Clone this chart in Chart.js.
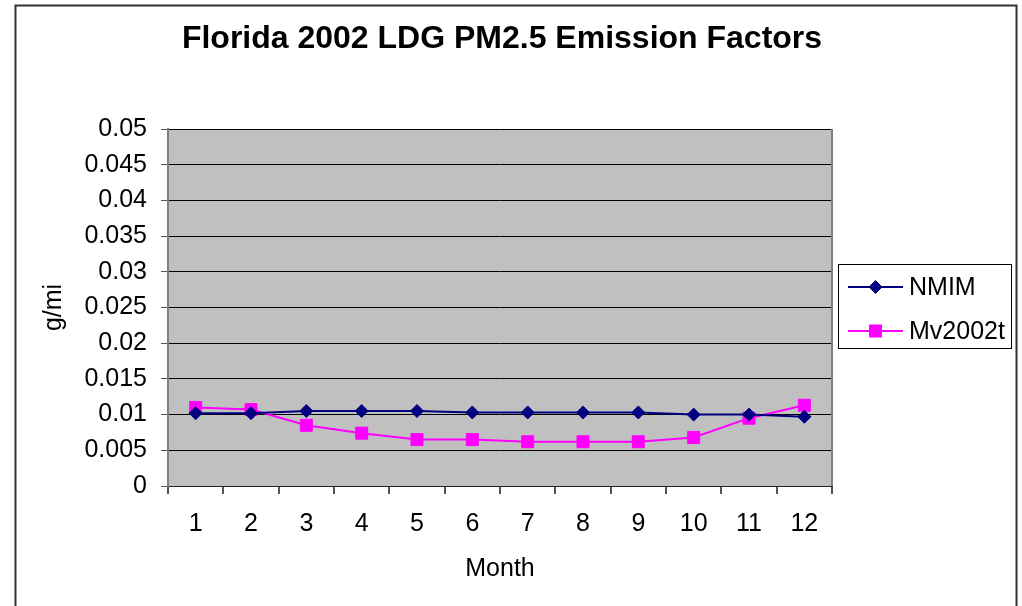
<!DOCTYPE html>
<html>
<head>
<meta charset="utf-8">
<script src="https://cdn.jsdelivr.net/npm/chart.js@4"></script>
<style>
  body { margin: 0; background: #fff; }
  canvas { display: block; }
</style>
</head>
<body>
<canvas id="efChart" width="1022" height="606"></canvas>
<script>
const months = ['1', '2', '3', '4', '5', '6', '7', '8', '9', '10', '11', '12'];
const nmimValues = [0.0102, 0.0102, 0.0105, 0.0105, 0.0105, 0.0103, 0.0103, 0.0103, 0.0103, 0.0100, 0.0100, 0.0097];
const mv2002tValues = [0.0110, 0.0107, 0.0085, 0.0074, 0.0065, 0.0065, 0.0062, 0.0062, 0.0062, 0.0068, 0.0095, 0.0113];
const yTickLabels = ['0', '0.005', '0.01', '0.015', '0.02', '0.025', '0.03', '0.035', '0.04', '0.045', '0.05'];

const FONT = "'Liberation Sans', Arial, sans-serif";

// grey plot area, outer frame, title and boxed legend like the Excel original
const excelLook = {
  id: 'excelLook',
  beforeDraw(chart) {
    const { ctx, chartArea: a } = chart;
    ctx.save();
    ctx.fillStyle = '#fff';
    ctx.fillRect(0, 0, chart.width, chart.height);
    ctx.fillStyle = '#c0c0c0';
    ctx.fillRect(a.left, a.top, a.right - a.left, a.bottom - a.top);
    ctx.restore();
  },
  afterDraw(chart) {
    const { ctx, chartArea: a } = chart;
    ctx.save();
    // right edge of plot
    ctx.strokeStyle = '#808080';
    ctx.lineWidth = 2;
    ctx.beginPath();
    ctx.moveTo(a.right, a.top);
    ctx.lineTo(a.right, a.bottom);
    ctx.stroke();

    // outer frame
    ctx.strokeStyle = '#333';
    ctx.lineWidth = 2;
    ctx.beginPath();
    ctx.moveTo(15.5, 610);
    ctx.lineTo(15.5, 5.5);
    ctx.lineTo(1016.5, 5.5);
    ctx.lineTo(1016.5, 610);
    ctx.stroke();

    // title
    ctx.fillStyle = '#000';
    ctx.font = 'bold 32px ' + FONT;
    ctx.textAlign = 'center';
    ctx.textBaseline = 'middle';
    ctx.fillText('Florida 2002 LDG PM2.5 Emission Factors', 502, 39);

    // legend
    ctx.fillStyle = '#fff';
    ctx.fillRect(838, 264, 173, 84);
    ctx.strokeStyle = '#000';
    ctx.lineWidth = 1;
    ctx.strokeRect(838.5, 264.5, 173, 84);
    const rows = [287, 331];
    chart.data.datasets.forEach((ds, i) => {
      const y = rows[i];
      ctx.strokeStyle = ds.borderColor;
      ctx.lineWidth = 2;
      ctx.beginPath();
      ctx.moveTo(848, y);
      ctx.lineTo(903, y);
      ctx.stroke();
      ctx.fillStyle = ds.backgroundColor;
      ctx.lineWidth = 1;
      Chart.helpers.drawPoint(ctx, {
        pointStyle: ds.pointStyle,
        radius: ds.pointRadius,
        rotation: 0,
        borderWidth: 1
      }, 875.5, y);
      ctx.fillStyle = '#000';
      ctx.font = '25px ' + FONT;
      ctx.textAlign = 'left';
      ctx.textBaseline = 'middle';
      ctx.fillText(ds.label, 909, y + 1);
    });
    ctx.restore();
  }
};

new Chart(document.getElementById('efChart').getContext('2d'), {
  type: 'line',
  data: {
    labels: months,
    datasets: [
      {
        label: 'NMIM',
        data: nmimValues,
        borderColor: '#000080',
        backgroundColor: '#000080',
        borderWidth: 2,
        pointStyle: 'rectRot',
        pointRadius: 6.5,
        pointBorderWidth: 1,
        tension: 0
      },
      {
        label: 'Mv2002t',
        data: mv2002tValues,
        borderColor: '#ff00ff',
        backgroundColor: '#ff00ff',
        borderWidth: 2,
        pointStyle: 'rect',
        pointRadius: 8.5,
        pointBorderWidth: 1,
        tension: 0
      }
    ]
  },
  options: {
    responsive: false,
    animation: false,
    layout: { padding: { top: 129, right: 190, left: 0, bottom: 0 } },
    plugins: {
      legend: { display: false },
      title: { display: false },
      tooltip: { enabled: false }
    },
    scales: {
      x: {
        offset: true,
        grid: {
          offset: true,
          drawOnChartArea: false,
          drawTicks: true,
          tickLength: 8,
          tickColor: '#555',
          lineWidth: 2
        },
        border: { color: '#222', width: 1 },
        ticks: {
          color: '#000',
          font: { family: FONT, size: 25, lineHeight: 1.2 },
          padding: 15,
          maxRotation: 0
        },
        title: {
          display: true,
          text: 'Month',
          color: '#000',
          font: { family: FONT, size: 25, lineHeight: 1.2 },
          padding: { top: 0, bottom: 22 }
        },
        afterFit(scale) { scale.height = 120; }
      },
      y: {
        min: 0,
        max: 0.05,
        grid: {
          color: '#000',
          lineWidth: 1,
          drawTicks: true,
          tickLength: 7,
          tickColor: '#555'
        },
        border: { color: '#808080', width: 2 },
        ticks: {
          stepSize: 0.005,
          color: '#000',
          font: { family: FONT, size: 25, lineHeight: 1.2 },
          padding: 14,
          callback(value, index) { return yTickLabels[index]; }
        },
        title: {
          display: true,
          text: 'g/mi',
          color: '#000',
          font: { family: FONT, size: 25, lineHeight: 1.2 },
          padding: { top: 39, bottom: 0 }
        },
        afterFit(scale) { scale.width = 168; }
      }
    }
  },
  plugins: [excelLook]
});
</script>
</body>
</html>
